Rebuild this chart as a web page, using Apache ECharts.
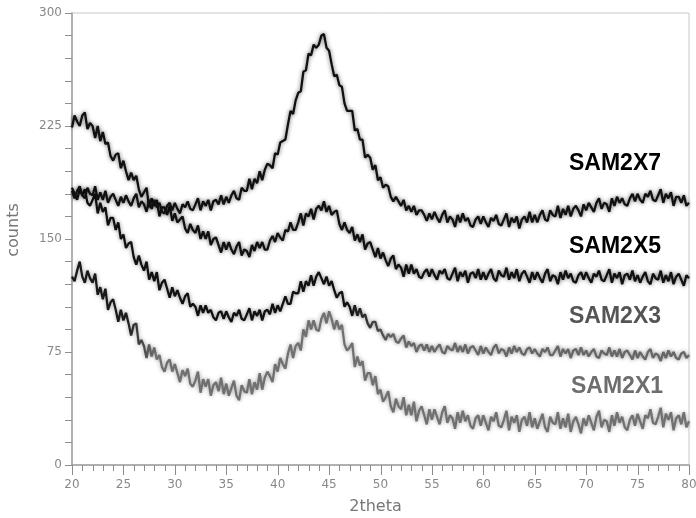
<!DOCTYPE html>
<html>
<head>
<meta charset="utf-8">
<script src="https://cdn.jsdelivr.net/npm/echarts@6/dist/echarts.min.js"></script>
<style>html,body{margin:0;padding:0;background:#fff;}#c{width:696px;height:518px;}</style>
</head>
<body>
<div id="c"></div>
<script>
// 2theta grid: start 20, step 0.25 (241 points up to 80)
const thetaStart = 20;
const thetaStep = 0.25;
const seriesNames = ['SAM2X1', 'SAM2X3', 'SAM2X5', 'SAM2X7'];
const yTickLabels = [0, 75, 150, 225, 300];
const xTickLabels = [20, 25, 30, 35, 40, 45, 50, 55, 60, 65, 70, 75, 80];

const sam2x7 = [
182,177,182,185,179,177,184,180,179,185,176,181,176,182,174,178,180,176,172,178,
174,179,175,172,177,180,171,175,173,168,176,170,176,171,174,168,167,172,174,169,
174,170,167,173,171,175,170,169,173,177,169,175,172,176,169,175,176,173,179,173,
178,174,179,182,177,176,184,182,182,190,183,190,187,195,189,196,200,199,197,207,
206,214,215,216,226,235,233,242,247,248,261,262,273,272,279,277,279,285,286,277,
275,266,258,259,252,251,240,235,235,235,222,223,216,216,204,206,204,196,199,189,
191,184,186,185,178,175,178,175,172,176,169,172,168,172,166,169,169,166,162,167,
163,168,164,161,166,169,161,165,163,158,166,161,167,162,164,159,158,163,165,160,
165,161,158,164,162,166,160,159,163,167,158,164,161,165,157,163,165,161,168,161,
166,161,166,169,163,162,169,166,165,172,164,170,166,172,165,170,172,169,165,173,
169,174,171,168,174,177,170,174,173,168,177,172,178,174,177,173,172,177,180,175,
180,176,174,180,178,182,176,175,179,183,174,180,177,181,172,178,178,174,179,172,
174];

const sam2x5 = [
224,232,228,225,232,234,223,227,225,217,225,215,221,213,214,205,202,206,207,197,
202,195,189,194,189,192,183,178,181,184,171,177,172,176,165,171,171,166,172,162,
167,161,163,165,157,154,160,156,154,159,150,155,150,155,146,150,151,146,141,148,
143,148,143,140,145,148,139,143,142,138,146,142,148,144,148,143,143,149,152,148,
154,151,149,156,155,161,156,156,161,167,159,167,165,170,163,170,172,169,175,168,
172,166,168,169,160,156,161,156,154,158,149,153,148,153,143,147,148,143,138,144,
137,141,136,132,137,139,130,133,131,125,133,127,133,127,130,125,124,128,130,125,
130,126,123,129,127,130,124,123,127,131,122,128,125,129,121,127,128,124,130,123,
128,123,127,130,124,122,129,126,125,131,123,128,124,130,122,127,129,125,121,128,
123,128,124,121,127,130,122,126,125,120,128,123,129,124,127,122,121,126,128,123,
128,124,121,127,125,129,123,122,126,130,121,127,124,128,120,126,127,123,129,122,
126,121,125,128,122,120,127,124,123,129,121,126,122,128,120,125,127,123,119,126,
124];

const sam2x3 = [
184,180,176,183,179,183,174,172,176,180,167,174,168,171,159,164,164,156,161,150,
153,144,147,148,138,133,139,133,129,135,123,128,122,128,116,121,123,117,111,118,
112,116,111,107,112,114,105,107,105,99,106,101,106,101,103,98,96,101,102,97,
102,98,95,101,99,103,97,96,100,104,96,102,99,103,96,102,103,100,107,101,
106,102,107,112,107,107,115,114,114,122,115,122,119,126,119,125,128,124,120,125,
119,122,116,111,114,115,105,108,105,99,106,99,104,98,100,94,91,95,95,89,
90,86,83,87,85,87,82,81,84,86,78,82,79,81,75,79,80,76,80,75,
79,75,78,80,75,74,79,77,76,81,75,79,75,80,74,78,79,76,73,79,
74,78,75,73,78,80,74,77,76,72,78,74,79,75,78,74,73,77,78,74,
77,74,72,77,75,78,73,73,76,79,72,77,74,77,71,76,77,73,78,73,
76,72,75,77,72,71,76,74,73,78,72,76,72,77,71,75,76,73,70,76,
71,75,72,70,75,77,71,74,73,69,75,71,76,72,75,71,70,74,75,71,
73];

const sam2x1 = [
125,122,129,135,125,121,129,124,121,127,113,118,110,117,103,108,110,103,95,103,
96,101,94,86,93,94,80,83,79,71,80,72,78,70,73,65,62,68,70,62,
67,61,55,63,59,64,54,52,56,62,48,57,52,57,46,53,55,49,58,47,
54,46,51,56,46,43,53,49,48,57,47,55,50,61,50,58,62,59,55,67,
62,71,67,64,74,80,71,79,81,76,90,85,96,90,96,90,89,97,101,94,
102,97,90,96,90,93,80,76,78,81,65,72,66,69,56,61,61,53,59,47,
50,42,45,49,39,35,44,39,37,45,33,40,33,42,29,36,39,33,27,37,
30,37,32,27,35,39,28,33,31,24,35,28,36,29,33,26,24,31,33,26,
33,28,23,32,29,35,26,25,30,36,23,32,28,33,22,30,32,26,35,25,
31,24,29,34,25,22,32,28,27,35,24,31,25,34,22,29,32,27,21,31,
26,33,28,23,32,36,25,30,29,22,33,26,35,28,32,25,23,30,33,26,
34,29,24,33,31,37,28,27,32,38,25,34,30,35,23,31,33,27,35,25,
29];

function pairs(arr) { return arr.map((v, i) => [thetaStart + i * thetaStep, v]); }

const chart = echarts.init(document.getElementById('c'), null, {renderer: 'canvas'});
const grad = (stops) => new echarts.graphic.LinearGradient(0, 0, 1, 0, stops);
const axisFont = '"DejaVu Sans", sans-serif';

const lineColors = [
  grad([{offset: 0, color: '#1a1a1a'}, {offset: 0.09, color: '#1a1a1a'}, {offset: 0.14, color: '#707070'}, {offset: 1, color: '#707070'}]),
  grad([{offset: 0, color: '#111'}, {offset: 0.45, color: '#111'}, {offset: 0.52, color: '#666'}, {offset: 1, color: '#666'}]),
  '#111',
  '#111'
];
const shadowColors = ['rgba(90,90,90,0.6)', 'rgba(60,60,60,0.6)', 'rgba(0,0,0,0.6)', 'rgba(0,0,0,0.6)'];
const dataSets = [sam2x1, sam2x3, sam2x5, sam2x7];

const labelGraphics = [
  {type: 'text', id: 'l7', left: 569, top: 152, z: 20, style: {text: 'SAM2X7', font: 'bold 23px "Liberation Sans", Arial', fill: '#000'}},
  {type: 'text', id: 'l5', left: 569, top: 235, z: 20, style: {text: 'SAM2X5', font: 'bold 23px "Liberation Sans", Arial', fill: '#000'}},
  {type: 'text', id: 'l3', left: 569, top: 305, z: 20, style: {text: 'SAM2X3', font: 'bold 23px "Liberation Sans", Arial', fill: '#555'}},
  {type: 'text', id: 'l1', left: 571, top: 375, z: 20, style: {text: 'SAM2X1', font: 'bold 23px "Liberation Sans", Arial', fill: '#6e6e6e'}}
];

chart.setOption({
  animation: false,
  backgroundColor: '#fff',
  grid: {left: 72, right: 7, top: 13, bottom: 53, outerBoundsMode: 'none', containLabel: false,
         show: true, borderColor: '#c8c8c8', borderWidth: 1, backgroundColor: 'transparent'},
  xAxis: {
    type: 'value', min: xTickLabels[0], max: xTickLabels[xTickLabels.length - 1], interval: 5,
    name: '2theta', nameLocation: 'middle', nameGap: 34,
    nameTextStyle: {fontFamily: axisFont, fontSize: 16, color: '#777', padding: [0, 10, 0, 0]},
    axisLine: {show: true, onZero: false, lineStyle: {color: '#a0a0a0', width: 1.5}},
    axisTick: {show: false},
    splitLine: {show: false},
    axisLabel: {fontFamily: axisFont, fontSize: 12, color: '#888', margin: 14}
  },
  yAxis: {
    type: 'value', min: yTickLabels[0], max: yTickLabels[yTickLabels.length - 1], interval: 75,
    name: 'counts', nameLocation: 'middle', nameGap: 50, nameRotate: 90,
    nameTextStyle: {fontFamily: axisFont, fontSize: 16, color: '#777', padding: [0, 0, 0, 18]},
    axisLine: {show: true, onZero: false, lineStyle: {color: '#a0a0a0', width: 1.5}},
    axisTick: {show: true, length: 7, lineStyle: {color: '#909090'}},
    minorTick: {show: true, splitNumber: 5, length: 7, lineStyle: {color: '#909090'}},
    splitLine: {show: false},
    axisLabel: {fontFamily: axisFont, fontSize: 12, color: '#888', margin: 10}
  },
  series: dataSets.map((d, i) => ({
    name: seriesNames[i], type: 'line', data: pairs(d), showSymbol: false, symbol: 'none',
    lineStyle: {color: lineColors[i], width: 2.3, shadowBlur: 4, shadowColor: shadowColors[i]}, z: 2 + i
  })),
  graphic: labelGraphics
});

// Draw the x-axis tick comb (major every 5, minor every 1) through the axis scale.
const tickGraphics = [];
const y0 = chart.convertToPixel({yAxisIndex: 0}, yTickLabels[0]);
for (let t = xTickLabels[0]; t <= xTickLabels[xTickLabels.length - 1]; t += 1) {
  const px = Math.round(chart.convertToPixel({xAxisIndex: 0}, t)) + 0.5;
  const major = (t % 5 === 0);
  tickGraphics.push({
    type: 'line', id: 'xt' + t, z: 10, silent: true,
    shape: {x1: px, y1: y0, x2: px, y2: y0 + (major ? 10 : 6)},
    style: {stroke: '#8c8c8c', lineWidth: 1}
  });
}
chart.setOption({graphic: labelGraphics.concat(tickGraphics)});
</script>
</body>
</html>
